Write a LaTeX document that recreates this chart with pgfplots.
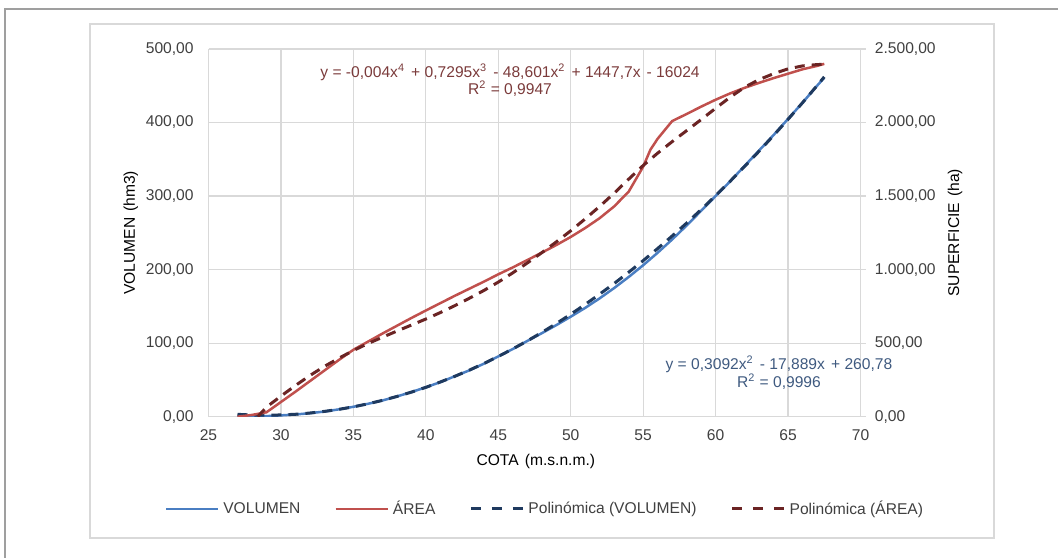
\documentclass[border=0pt]{standalone}
\usepackage{fontspec}
\setmainfont{Liberation Sans}
\usepackage{pgfplots}
\usepackage{pgfplotstable}
\pgfplotsset{compat=1.18}

\definecolor{volc}{HTML}{4A7EC2}
\definecolor{areac}{HTML}{C0504D}
\definecolor{volpoly}{HTML}{1F3A5F}
\definecolor{areapoly}{HTML}{6B2424}
\definecolor{gridc}{HTML}{D9D9D9}
\definecolor{txt}{HTML}{404040}
\definecolor{eqred}{HTML}{7B3B3B}
\definecolor{eqblue}{HTML}{3F5A80}

% cota / volumen (hm3)
\pgfplotstableread{
cota vol
27 0
28 0.2
29 0.8
30 1.8
31 3
32 4.8
33 7
34 10
35 13.5
36 17.5
37 22
38 27.5
39 33.5
40 40
41 47
42 55
43 63
44 72
45 82
46 92
47 103
48 113.5
49 124.5
50 136
51 148
52 161
53 175
54 190
55 206
56 223
57 241
58 260
59 280
60 300
61 320
62 341
63 362
64 383
65 405
66 427
67 450
67.5 461
}\volumen

\pgfplotstableread{
cota vol
27 3.2
28 2.3
29 2.0
30 2.4
31 3.3
32 5.0
33 7.2
34 10.0
35 13.4
36 17.5
37 22.2
38 27.5
39 33.4
40 39.9
41 47.2
42 54.9
43 63.3
44 72.3
45 81.9
46 92.2
47 103.0
48 114.5
49 126.6
50 139.3
51 152.7
52 166.7
53 181.2
54 196.4
55 212.2
56 228.7
57 245.7
58 263.3
59 281.6
60 300.6
61 320.1
62 340.3
63 361.0
64 382.4
65 404.4
66 427.0
67 450.2
67.5 462.1
}\volpoly

% cota / superficie (ha)
\pgfplotstableread{
cota area
27 0
28 12
29 30
30 100
31 170
32 242
33 314
34 386
35 455
36 510
37 565
38 618
39 671
40 722
41 772
42 822
43 870
44 918
45 968
46 1015
47 1065
48 1115
49 1167
50 1222
51 1283
52 1350
53 1430
54 1530
55 1700
55.5 1815
56 1890
56.5 1950
57 2010
58 2058
59 2108
60 2155
61 2198
62 2236
63 2270
64 2302
65 2332
66 2362
67 2385
67.5 2399
}\area

\pgfplotstableread{
cota area
28.4 0
29 65
30 140
31 212
32 280
33 342
34 398
35 450
36 497
37 540
38 582
39 623
40 664
41 708
42 755
43 805
44 858
45 915
46 978
47 1045
48 1115
49 1188
50 1264
51 1345
52 1430
53 1520
54 1615
55 1708
56 1792
57 1870
58 1945
59 2020
60 2097
61 2172
62 2240
63 2292
64 2332
65 2365
66 2385
67 2394
67.5 2396
}\areapoly

\newcommand\dsp{\ \hspace{0.9pt}}

\begin{document}
\fontsize{7.8}{8.8}\selectfont
\begin{tikzpicture}
\useasboundingbox (0pt,0pt) rectangle (529pt,278.5pt);
\draw[gray!75, line width=0.6pt] (2.5pt,-2pt) -- (2.5pt,274pt) -- (531pt,274pt);
\draw[gridc, line width=0.75pt] (45pt,9.5pt) rectangle (497pt,266.5pt);

\pgfplotsset{
  every axis/.append style={
    at={(104.25pt,70.15pt)}, anchor=south west,
    scale only axis, width=326pt, height=183.85pt,
    xmin=25, xmax=70,
    clip mode=individual,
    font=\fontsize{7.8}{8.8}\selectfont,
    tick label style={text=txt, inner sep=0pt},
    label style={text=txt},
    /pgf/number format/assume math mode=true,
  },
}

\begin{axis}[
  ymin=0, ymax=500,
  axis line style={draw=none},
  xtick={25,30,...,70},
  ytick={0,100,...,500},
  yticklabels={{0,00},{100,00},{200,00},{300,00},{400,00},{500,00}},
  ticklabel pos=left,
  tick style={draw=none},
  xticklabel shift=6.5pt,
  yticklabel shift=7.25pt,
  grid=major,
  major grid style={gridc, line width=0.65pt},
  xlabel={COTA\dsp(m.s.n.m.)},
  ylabel={VOLUMEN\dsp(hm3)},
  every axis x label/.style={at={(axis description cs:0.502,-0.1224)}, anchor=center},
  every axis y label/.style={at={(axis description cs:-0.119,0.5)}, rotate=90, anchor=center},
]
\addplot[volc, line width=1.25pt] table[x=cota, y=vol] {\volumen};
\addplot[volpoly, line width=1.5pt, dash pattern=on 5pt off 3.5pt] table[x=cota, y=vol] {\volpoly};
\node[text=eqblue, align=center, font=\fontsize{7.8}{9}\selectfont] at (axis cs:64.37,59.5)
  {y = 0,3092x\textsuperscript{2}\dsp- 17,889x\dsp+ 260,78\\R\textsuperscript{2} = 0,9996};
\end{axis}

\begin{axis}[
  ymin=0, ymax=2500,
  axis x line=none,
  axis y line*=right,
  y axis line style={draw=none},
  ytick={0,500,...,2500},
  yticklabels={{0,00},{500,00},{1.000,00},{1.500,00},{2.000,00},{2.500,00}},
  ytick style={draw=gridc, line width=0.65pt},
  tick align=outside,
  major tick length=2.5pt,
  yticklabel shift=4.5pt,
  ylabel={SUPERFICIE\dsp(ha)},
  every axis y label/.style={at={(axis description cs:1.145,0.5)}, rotate=90, anchor=center},
  legend columns=4,
  legend style={draw=none, fill=none, at={(0.5176,-0.251)}, anchor=center,
    font=\fontsize{7.8}{8.8}\selectfont, text=txt,
    /tikz/every even column/.append style={column sep=15pt}},
  legend image code/.code={\draw[#1] (0pt,0pt) -- (26pt,0pt);},
]
\addlegendimage{volc, line width=1.25pt}
\addlegendentry{VOLUMEN}
\addplot[areac, line width=1.25pt] table[x=cota, y=area] {\area};
\addlegendentry{ÁREA}
\addlegendimage{volpoly, line width=1.5pt, dash pattern=on 5pt off 5.5pt}
\addlegendentry{Polinómica (VOLUMEN)}
\addplot[areapoly, line width=1.5pt, dash pattern=on 5pt off 3.5pt,
  forget plot] table[x=cota, y=area] {\areapoly};
\addlegendimage{areapoly, line width=1.5pt, dash pattern=on 5pt off 5.5pt}
\addlegendentry{Polinómica (ÁREA)}
\node[text=eqred, align=center, font=\fontsize{7.8}{8.7}\selectfont] at (axis cs:45.81,2288)
  {y = -0,004x\textsuperscript{4}\dsp+ 0,7295x\textsuperscript{3}\dsp- 48,601x\textsuperscript{2}\dsp+ 1447,7x\dsp- 16024\\R\textsuperscript{2} = 0,9947};
\end{axis}
\end{tikzpicture}
\end{document}
